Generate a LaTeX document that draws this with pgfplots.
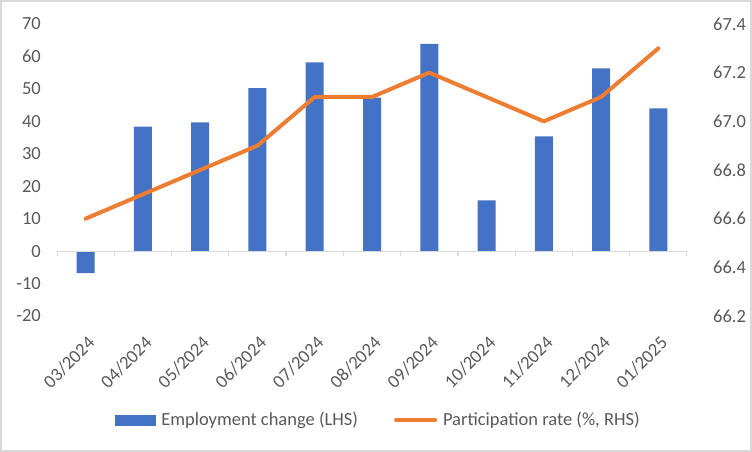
\documentclass[border=0pt]{standalone}
\usepackage{fontspec}
\setmainfont{Carlito}
\usepackage{pgfplots}
\pgfplotsset{compat=1.18}
\definecolor{xlblue}{HTML}{4472C4}
\definecolor{xlorange}{HTML}{ED7D31}
\definecolor{xltext}{HTML}{595959}
\definecolor{xlline}{HTML}{D9D9D9}
\newcommand\lbl{\fontsize{18.5pt}{22pt}\selectfont}

\pgfplotsset{
  common/.style={
    at={(57pt,136pt)}, anchor=south west,
    scale only axis, width=630pt, height=292pt,
    xmin=-0.5, xmax=10.5,
    axis line style={draw=none},
    major tick length=0pt,
    tick label style={font=\lbl, text=xltext},
    /pgf/number format/assume math mode=true,
  },
}

\begin{document}
\begin{tikzpicture}
\useasboundingbox (0,0) rectangle (752pt,452pt);
\draw[xlline, line width=1.5pt] (1pt,1pt) rectangle (751pt,451pt);

% employment change (LHS)
\begin{axis}[common,
  ymin=-20, ymax=70,
  ytick={-20,-10,0,10,20,30,40,50,60,70},
  yticklabel style={inner sep=0pt, anchor=east, xshift=-16pt},
  xtick={0,...,10},
  xticklabels={03/2024,04/2024,05/2024,06/2024,07/2024,08/2024,09/2024,10/2024,11/2024,12/2024,01/2025},
  xticklabel style={inner sep=0pt, xshift=1pt, yshift=-19pt, rotate=45, anchor=north east},
  ybar, bar width=18pt,
]
\addplot[fill=xlblue, draw=none] coordinates {
  (0,-6.8) (1,38.4) (2,39.7) (3,50.2) (4,58.2) (5,47.3)
  (6,63.9) (7,15.6) (8,35.4) (9,56.3) (10,44.0)
};
\draw[xlline, line width=1.2pt] (axis cs:-0.5,0) -- (axis cs:10.5,0);
\pgfplotsinvokeforeach{-0.5,0.5,1.5,2.5,3.5,4.5,5.5,6.5,7.5,8.5,9.5,10.5}{
  \draw[xlline, line width=1.2pt] (axis cs:#1,0) -- ([yshift=-5pt]axis cs:#1,0);
}
\end{axis}

% participation rate (RHS)
\begin{axis}[common,
  ymin=66.2, ymax=67.4,
  ytick={66.2,66.4,66.6,66.8,67.0,67.2,67.4},
  yticklabel pos=right,
  yticklabel style={inner sep=0pt, anchor=west, xshift=26pt,
    /pgf/number format/.cd, fixed, fixed zerofill, precision=1},
  xtick=\empty,
  legend columns=2,
  legend style={at={(0.51,-0.356)}, anchor=center, draw=none, fill=none,
    font=\lbl, text=xltext, inner sep=0pt,
    /tikz/every even column/.append style={column sep=34pt}},
  legend cell align=left,
]
\addlegendimage{legend image code/.code={
  \fill[xlblue] (0pt,-5pt) rectangle (40pt,5pt);}}
\addlegendentry{\hspace{4pt}Employment change (LHS)}
\addplot[xlorange, line width=4pt, line join=round, line cap=round,
  legend image code/.code={
    \draw[xlorange, line width=4pt, line cap=round] (2pt,0pt) -- (41pt,0pt);}]
  coordinates {
  (0,66.6) (1,66.7) (2,66.8) (3,66.9) (4,67.1) (5,67.1)
  (6,67.2) (7,67.1) (8,67.0) (9,67.1) (10,67.3)
};
\addlegendentry{\hspace{4pt}Participation rate (\%, RHS)}
\end{axis}
\end{tikzpicture}
\end{document}
